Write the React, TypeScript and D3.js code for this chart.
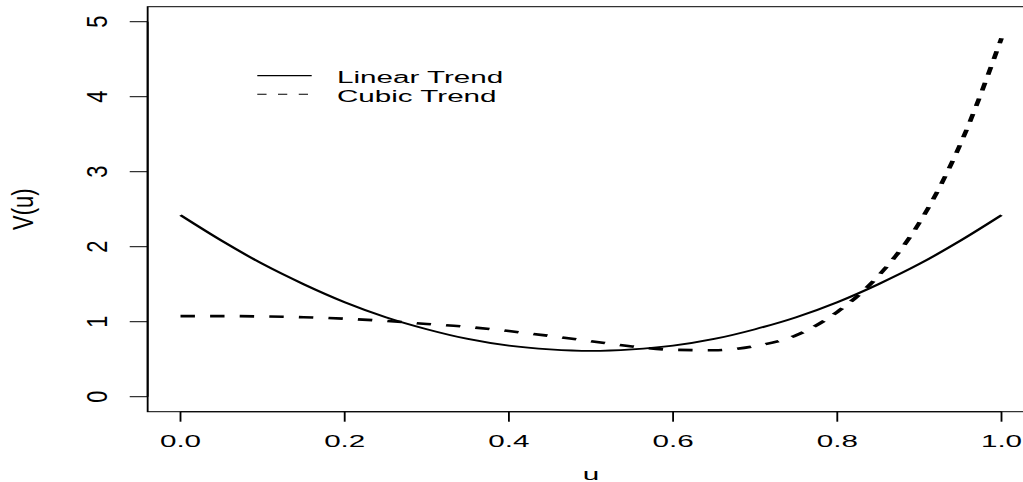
import React from "react";
import * as d3 from "d3";

// Evaluation grid for the two variance curves
const uGrid = [0, 0.05, 0.1, 0.15, 0.2, 0.25, 0.3, 0.35, 0.4, 0.45, 0.5, 0.55, 0.6, 0.65, 0.7, 0.75, 0.8, 0.85, 0.9, 0.95, 1.0];
const linearTrend = [2.42, 2.08, 1.77, 1.5, 1.26, 1.06, 0.9, 0.77, 0.68, 0.63, 0.61, 0.63, 0.68, 0.77, 0.9, 1.06, 1.26, 1.5, 1.77, 2.08, 2.42];
const cubicTrend = [1.075, 1.075, 1.07, 1.06, 1.04, 1.01, 0.97, 0.93, 0.875, 0.81, 0.74, 0.67, 0.625, 0.62, 0.675, 0.82, 1.13, 1.61, 2.32, 3.37, 4.78];

const xTicks = [0, 0.2, 0.4, 0.6, 0.8, 1.0];
const xTickLabels = ["0.0", "0.2", "0.4", "0.6", "0.8", "1.0"];
const yTicks = [0, 1, 2, 3, 4, 5];
const yTickLabels = ["0", "1", "2", "3", "4", "5"];
const legendLabels = ["Linear Trend", "Cubic Trend"];

const W = 1023;
const H = 482;
const KX = 1.85; // horizontal stretch of the device
const FONT = "'Liberation Sans', Arial, Helvetica, sans-serif";

// Screen-space scales
const x = d3.scaleLinear().domain([0, 1]).range([180.5, 1001.5]);
const y = d3.scaleLinear().domain([0, 5]).range([396.7, 21.7]);

const plotLeft = x(-0.04);
const plotRight = x(1.04);
const plotTop = y(5.2);
const plotBottom = y(-0.2);

// Device units (before horizontal stretch)
const dx = (v: number) => x(v) / KX;

const lineGen = d3
  .line<number>()
  .x((_, i) => dx(uGrid[i]))
  .y((v) => y(v))
  .curve(d3.curveMonotoneX);

export default function App() {
  const legendX0 = 257.3 / KX;
  const legendX1 = 311.7 / KX;
  return (
    <svg
      width={W}
      height={H}
      viewBox={`0 0 ${W} ${H}`}
      style={{ position: "absolute", left: 0, top: 0, background: "#fff" }}
    >
      <rect x={0} y={0} width={W} height={H} fill="#fff" />
      <g transform={`scale(${KX},1)`}>
        {/* plot frame */}
        <rect
          x={plotLeft / KX}
          y={plotTop}
          width={(plotRight - plotLeft) / KX}
          height={plotBottom - plotTop}
          fill="none"
          stroke="#000"
          strokeWidth={1}
        />
        {/* x axis */}
        <line x1={dx(0)} x2={dx(1)} y1={plotBottom} y2={plotBottom} stroke="#000" strokeWidth={1} />
        {xTicks.map((t) => (
          <line key={t} x1={dx(t)} x2={dx(t)} y1={plotBottom} y2={plotBottom + 10} stroke="#000" strokeWidth={1} />
        ))}
        {/* y axis */}
        <line x1={plotLeft / KX} x2={plotLeft / KX} y1={y(0)} y2={y(5)} stroke="#000" strokeWidth={1} />
        {yTicks.map((t) => (
          <line key={t} x1={plotLeft / KX} x2={plotLeft / KX - 9.7} y1={y(t)} y2={y(t)} stroke="#000" strokeWidth={1} />
        ))}
        {/* curves */}
        <path d={lineGen(linearTrend) || ""} fill="none" stroke="#000" strokeWidth={1.8} />
        <path d={lineGen(cubicTrend) || ""} fill="none" stroke="#000" strokeWidth={2.6} strokeDasharray="7.8 8.2" />
        {/* legend keys */}
        <line x1={legendX0} x2={legendX1} y1={75.7} y2={75.7} stroke="#000" strokeWidth={1.2} />
        <line x1={legendX0} x2={legendX1} y1={94.3} y2={94.3} stroke="#000" strokeWidth={1} strokeDasharray="5 6.2" />
      </g>

      {/* x tick labels */}
      {xTicks.map((t, i) => (
        <text
          key={t}
          transform={`translate(${x(t)},447) scale(${KX},1)`}
          textAnchor="middle"
          fontFamily={FONT}
          fontSize={16}
          fill="#000"
        >
          {xTickLabels[i]}
        </text>
      ))}
      {/* y tick labels */}
      {yTicks.map((t, i) => (
        <text
          key={t}
          transform={`translate(107,${y(t)}) rotate(-90) scale(1.37,${KX})`}
          textAnchor="middle"
          fontFamily={FONT}
          fontSize={16}
          fill="#000"
        >
          {yTickLabels[i]}
        </text>
      ))}
      {/* axis titles */}
      <text
        transform={`translate(${(plotLeft + plotRight) / 2},480) scale(${KX},1)`}
        textAnchor="middle"
        fontFamily={FONT}
        fontSize={16}
        fill="#000"
      >
        u
      </text>
      <text
        transform={`translate(33,${(plotTop + plotBottom) / 2}) rotate(-90) scale(1.37,${KX})`}
        textAnchor="middle"
        fontFamily={FONT}
        fontSize={16}
        fill="#000"
      >
        V(u)
      </text>
      {/* legend labels */}
      {legendLabels.map((lab, i) => (
        <text
          key={lab}
          transform={`translate(337,${82.7 + i * 19}) scale(${KX},1)`}
          fontFamily={FONT}
          fontSize={16}
          fill="#000"
        >
          {lab}
        </text>
      ))}
    </svg>
  );
}
